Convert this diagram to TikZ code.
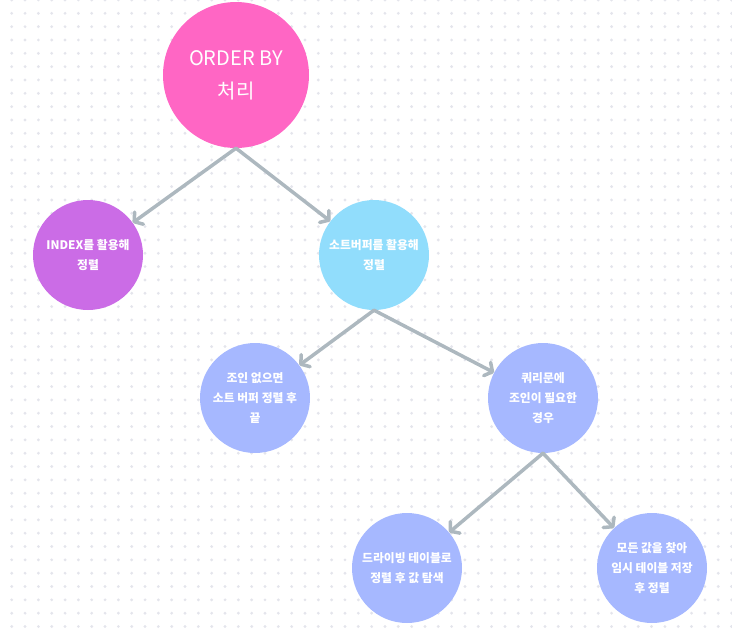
\documentclass[tikz,border=0pt]{standalone}
\usepackage{fontspec}
\setmainfont{Noto Sans CJK KR}
\usepackage{tikz}
\usetikzlibrary{arrows.meta}
\usetikzlibrary{positioning}

\definecolor{rootpink}{HTML}{FF66C4}
\definecolor{indexpurple}{HTML}{CB6CE6}
\definecolor{bufferblue}{HTML}{91DDFC}
\definecolor{stepblue}{HTML}{A6B8FF}
\definecolor{linkgray}{HTML}{ADB8BF}
\definecolor{dotgray}{HTML}{E4E5EC}

\begin{document}
\begin{tikzpicture}
          [on grid,
           every node/.style={circle, inner sep=0pt, align=center, text=white},
           bignode/.style={minimum size=146pt, fill=rootpink,
             font=\fontsize{20}{33}\selectfont},
           smallnode/.style={minimum size=110pt,
             font=\bfseries\fontsize{11.8}{20}\selectfont},
           link/.style={draw=linkgray, line width=3.5pt, line cap=round,
             -{Straight Barb[length=6pt, width=15pt, line cap=round, line join=round]}}]
          \useasboundingbox (0,0) rectangle (732pt,-633pt);

          % dotted background
          \foreach \i in {0,...,55}
            \foreach \j in {0,...,47}
              \fill[dotgray] (\i*13.33pt-1.6pt, -\j*13.33pt) circle (1.6pt);

          \node (root) [bignode] at (236pt,-75pt) {ORDER BY\\처리};
          \node (index) [smallnode, fill=indexpurple, below left = 180pt and 148pt of root] {INDEX를 활용해\\정렬};
          \node (buffer) [smallnode, fill=bufferblue, below right = 180pt and 138pt of root] {소트버퍼를 활용해\\정렬};
          \node (nojoin) [smallnode, fill=stepblue, below left = 143pt and 119pt of buffer] {조인 없으면\\소트 버퍼 정렬 후\\끝};
          \node (query) [smallnode, fill=stepblue, below right = 143pt and 169pt of buffer] {쿼리문에\\조인이 필요한\\경우};
          \node (driving) [smallnode, fill=stepblue, below left = 170pt and 136pt of query] {드라이빙 테이블로\\정렬 후 값 탐색};
          \node (temp) [smallnode, fill=stepblue, below right = 170pt and 109pt of query] {모든 값을 찾아\\임시 테이블 저장\\후 정렬};

          \draw[link] (root.south) -- (index);
          \draw[link] (root.south) -- (buffer);
          \draw[link] (buffer.south) -- (nojoin);
          \draw[link] (buffer.south) -- (query);
          \draw[link] (query.south) -- (driving);
          \draw[link] (query.south) -- (temp);
        \end{tikzpicture}
\end{document}
